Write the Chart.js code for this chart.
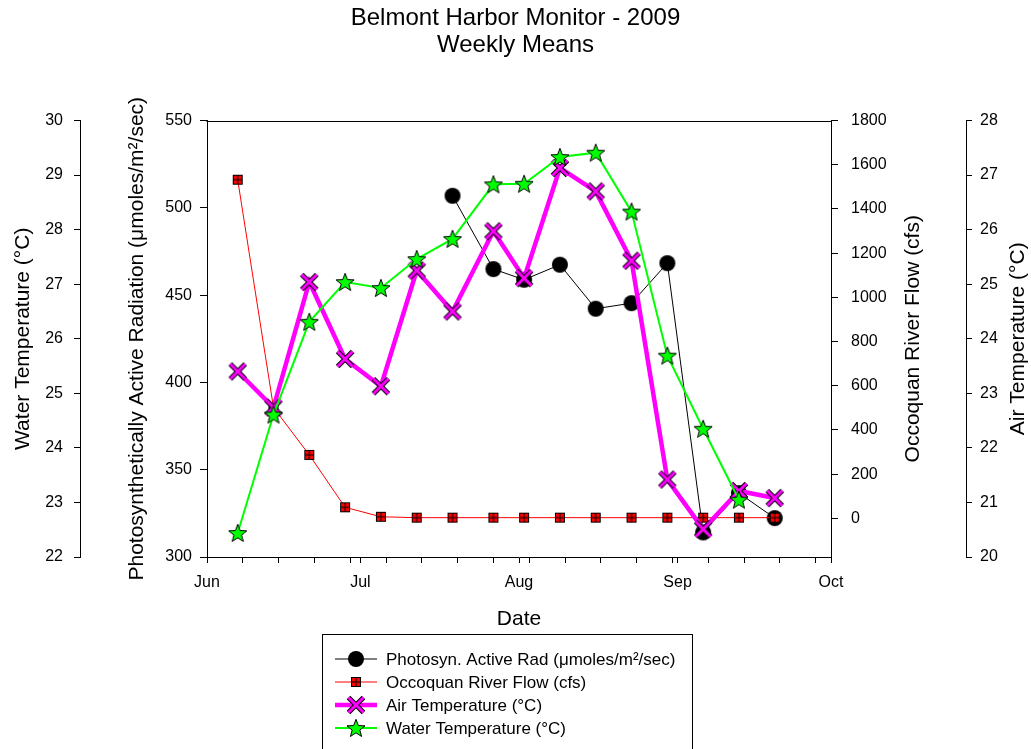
<!DOCTYPE html>
<html>
<head>
<meta charset="utf-8">
<title>Belmont Harbor Monitor - 2009</title>
<script src="https://cdn.jsdelivr.net/npm/chart.js@4.4.1/dist/chart.umd.min.js"></script>
<style>
  html, body { margin: 0; padding: 0; background: #ffffff; }
  #wrap { width: 1031px; height: 749px; }
</style>
</head>
<body>
<div id="wrap"><canvas id="chart" width="1031" height="749"></canvas></div>
<script>
// Weekly sampling dates (2009)
const sampleDates = [
  '2009-06-07', '2009-06-14', '2009-06-21', '2009-06-28',
  '2009-07-05', '2009-07-12', '2009-07-19', '2009-07-27',
  '2009-08-02', '2009-08-09', '2009-08-16', '2009-08-23',
  '2009-08-30', '2009-09-06', '2009-09-13', '2009-09-20'
];

// Photosynthetically active radiation (umoles/m2/sec); no data before mid-July
const parValues = [
  null, null, null, null, null, null, 506.9, 464.9,
  458.8, 467.4, 442.2, 445.4, 468.3, 314.1, 336.6, 322.3
];

// Occoquan River flow (cfs)
const flowValues = [
  1532, 501, 287, 50, 7, 3, 3, 3,
  3, 3, 3, 3, 3, 3, 3, 3
];

// Air temperature (deg C)
const airTempValues = [
  23.40, 22.74, 25.04, 23.63, 23.13, 25.25, 24.50, 25.97,
  25.11, 27.13, 26.70, 25.43, 21.42, 20.51, 21.21, 21.08
];

// Water temperature (deg C); last week missing
const waterTempValues = [
  22.44, 24.61, 26.31, 27.04, 26.93, 27.46, 27.83, 28.83,
  28.84, 29.33, 29.41, 28.33, 25.69, 24.35, 23.05, null
];

// Month labels on the date axis (days after 1 June)
const monthTicks = [
  { day: 0, label: 'Jun' }, { day: 30, label: 'Jul' }, { day: 61, label: 'Aug' },
  { day: 92, label: 'Sep' }, { day: 122, label: 'Oct' }
];
const weekTickDays = [0, 7, 14, 21, 28, 35, 42, 49, 56, 63, 70, 77, 84, 91, 98, 105, 112, 119];

const waterTicks = [22, 23, 24, 25, 26, 27, 28, 29, 30];
const parTicks = [300, 350, 400, 450, 500, 550];
const flowTicks = [0, 200, 400, 600, 800, 1000, 1200, 1400, 1600, 1800];
const airTicks = [20, 21, 22, 23, 24, 25, 26, 27, 28];

const FONT = "'Liberation Sans', Arial, Helvetica, sans-serif";
const DAY0 = Date.UTC(2009, 5, 1);
function dayOf(s) {
  const [y, m, d] = s.split('-').map(Number);
  return (Date.UTC(y, m - 1, d) - DAY0) / 86400000;
}
const xDays = sampleDates.map(dayOf);
function series(values) {
  return values.map((v, i) => ({ x: xDays[i], y: v }));
}

// ---- marker images ----
function sprite(w, h, draw) {
  const c = document.createElement('canvas');
  c.width = w; c.height = h;
  const g = c.getContext('2d');
  draw(g, w / 2, h / 2);
  return c;
}
const circleMark = sprite(18, 18, (g, cx, cy) => {
  g.beginPath(); g.arc(cx, cy, 8, 0, Math.PI * 2);
  g.fillStyle = '#000'; g.fill();
});
const squareMark = sprite(12, 12, (g) => {
  g.fillStyle = '#ff0000'; g.fillRect(1, 1, 10, 10);
  g.strokeStyle = '#000'; g.lineWidth = 1;
  g.strokeRect(1.5, 1.5, 9, 9);
  g.beginPath();
  g.moveTo(6, 1.5); g.lineTo(6, 10.5);
  g.moveTo(1.5, 6); g.lineTo(10.5, 6);
  g.stroke();
});
const crossMark = sprite(22, 22, (g, cx, cy) => {
  const r = 7.5;
  g.lineCap = 'butt';
  g.beginPath();
  g.moveTo(cx - r, cy - r); g.lineTo(cx + r, cy + r);
  g.moveTo(cx - r, cy + r); g.lineTo(cx + r, cy - r);
  g.strokeStyle = '#000'; g.lineWidth = 5; g.stroke();
  g.strokeStyle = '#ff00ff'; g.lineWidth = 3; g.stroke();
});
const starMark = sprite(22, 22, (g, cx, cy) => {
  const ro = 9.5, ri = 4;
  g.beginPath();
  for (let k = 0; k < 10; k++) {
    const r = k % 2 === 0 ? ro : ri;
    const a = -Math.PI / 2 + k * Math.PI / 5;
    const px = cx + r * Math.cos(a), py = cy + 0.8 + r * Math.sin(a);
    if (k === 0) g.moveTo(px, py); else g.lineTo(px, py);
  }
  g.closePath();
  g.fillStyle = '#00ff00'; g.fill();
  g.strokeStyle = '#000'; g.lineWidth = 1; g.stroke();
});

// fixed box widths for the stacked axes
function fixWidth(w) { return (scale) => { scale.width = w; }; }
function setTicks(list) {
  return (scale) => { scale.ticks = list.map(v => ({ value: v })); };
}

const tickFont = { family: FONT, size: 16 };
const titleFont = { family: FONT, size: 21 };

function yAxis(pos, weight, min, max, list, width, tickLen, pad, title, titlePad) {
  return {
    type: 'linear', position: pos, weight: weight, min: min, max: max,
    afterBuildTicks: setTicks(list),
    afterFit: fixWidth(width),
    grid: { drawOnChartArea: false, drawTicks: true, tickLength: tickLen, color: '#000', tickColor: '#000', tickWidth: 1 },
    border: { display: true, color: '#000', width: 1 },
    ticks: { color: '#000', font: tickFont, padding: pad, callback: (v) => String(v) },
    title: title ? { display: true, text: title, color: '#000', font: titleFont, padding: { top: titlePad, bottom: 0 } } : { display: false }
  };
}

// titles on the right side read bottom-to-top
const rightTitles = {
  id: 'rightTitles',
  afterDraw(chart) {
    const ctx = chart.ctx;
    const area = chart.chartArea;
    const cy = (area.top + area.bottom) / 2;
    ctx.save();
    ctx.fillStyle = '#000';
    ctx.font = '21px ' + FONT;
    ctx.textAlign = 'center';
    ctx.textBaseline = 'middle';
    [[913, 'Occoquan River Flow (cfs)'], [1018, 'Air Temperature (°C)']].forEach(([x, t]) => {
      ctx.save();
      ctx.translate(x, cy);
      ctx.rotate(-Math.PI / 2);
      ctx.fillText(t, 0, 0);
      ctx.restore();
    });
    ctx.restore();
  }
};

// plot frame (top edge) drawn over the area
const frame = {
  id: 'frame',
  afterDatasetsDraw(chart) {
    const { ctx, chartArea: a } = chart;
    ctx.save();
    ctx.strokeStyle = '#000';
    ctx.lineWidth = 1;
    ctx.beginPath();
    ctx.moveTo(Math.round(a.left) - 0.5, Math.round(a.top) + 0.5);
    ctx.lineTo(Math.round(a.right) + 0.5, Math.round(a.top) + 0.5);
    ctx.stroke();
    ctx.restore();
  }
};

// boxed legend with line + symbol samples
const boxLegend = {
  id: 'boxLegend',
  afterDraw(chart) {
    const ctx = chart.ctx;
    const x0 = 322.5, y0 = 634.5, w = 370, h = 130;
    ctx.save();
    ctx.strokeStyle = '#000'; ctx.lineWidth = 1;
    ctx.strokeRect(x0, y0, w, h);
    const rowY = [659, 682, 705, 728];
    chart.data.datasets.forEach((ds, i) => {
      const y = rowY[i];
      ctx.beginPath();
      ctx.moveTo(335, y); ctx.lineTo(377, y);
      ctx.strokeStyle = ds.borderColor; ctx.lineWidth = ds.borderWidth;
      ctx.stroke();
      const img = ds.pointStyle;
      ctx.drawImage(img, 356 - img.width / 2, y - img.height / 2);
      ctx.fillStyle = '#000';
      ctx.font = '17px ' + FONT;
      ctx.textAlign = 'left';
      ctx.textBaseline = 'middle';
      ctx.fillText(ds.label, 386, y + 1);
    });
    ctx.restore();
  }
};

new Chart(document.getElementById('chart'), {
  type: 'line',
  data: {
    datasets: [
      {
        label: 'Photosyn. Active Rad (μmoles/m²/sec)', data: series(parValues), yAxisID: 'yPar',
        borderColor: '#000000', borderWidth: 1, pointStyle: circleMark, pointRadius: 8, order: 4, spanGaps: false
      },
      {
        label: 'Occoquan River Flow (cfs)', data: series(flowValues), yAxisID: 'yFlow',
        borderColor: '#ff0000', borderWidth: 1, pointStyle: squareMark, pointRadius: 6, order: 3
      },
      {
        label: 'Air Temperature (°C)', data: series(airTempValues), yAxisID: 'yAir',
        borderColor: '#ff00ff', borderWidth: 4.5, pointStyle: crossMark, pointRadius: 9, order: 2
      },
      {
        label: 'Water Temperature (°C)', data: series(waterTempValues), yAxisID: 'yWater',
        borderColor: '#00ff00', borderWidth: 2, pointStyle: starMark, pointRadius: 9, order: 1
      }
    ]
  },
  options: {
    responsive: false,
    devicePixelRatio: 1,
    animation: false,
    events: [],
    layout: { padding: { left: 0, right: 0, top: 0, bottom: 112 } },
    elements: { line: { tension: 0, fill: false } },
    plugins: {
      legend: { display: false },
      tooltip: { enabled: false },
      title: {
        display: true,
        text: ['Belmont Harbor Monitor - 2009', 'Weekly Means'],
        color: '#000',
        font: { family: FONT, size: 24, weight: 'normal', lineHeight: 1.125 },
        padding: { top: 4.5, bottom: 62 }
      }
    },
    scales: {
      x: {
        type: 'linear', position: 'bottom', min: 0, max: 122,
        afterBuildTicks: (scale) => {
          const days = Array.from(new Set(weekTickDays.concat(monthTicks.map(m => m.day)))).sort((a, b) => a - b);
          scale.ticks = days.map(v => ({ value: v }));
        },
        afterFit: (scale) => { scale.height = 80; },
        grid: { drawOnChartArea: false, drawTicks: true, tickLength: 6, color: '#000', tickColor: '#000' },
        border: { display: true, color: '#000', width: 1 },
        ticks: {
          color: '#000', font: tickFont, padding: 10, autoSkip: false, maxRotation: 0,
          callback: (v) => { const m = monthTicks.find(t => t.day === v); return m ? m.label : ''; }
        },
        title: { display: true, text: 'Date', color: '#000', font: titleFont, padding: { top: 0, bottom: 5 } }
      },
      yWater: yAxis('left', 2, 22, 30, waterTicks, 80, 6, 11, 'Water Temperature (°C)', 11),
      yPar: yAxis('left', 1, 300, 550, parTicks, 127, 7, 8, 'Photosynthetically Active Radiation (μmoles/m²/sec)', 45),
      yFlow: yAxis('right', 1, -175, 1800, flowTicks, 135, 7, 13, null, 0),
      yAir: yAxis('right', 2, 20, 28, airTicks, 65, 6, 8, null, 0)
    }
  },
  plugins: [rightTitles, frame, boxLegend]
});
</script>
</body>
</html>
